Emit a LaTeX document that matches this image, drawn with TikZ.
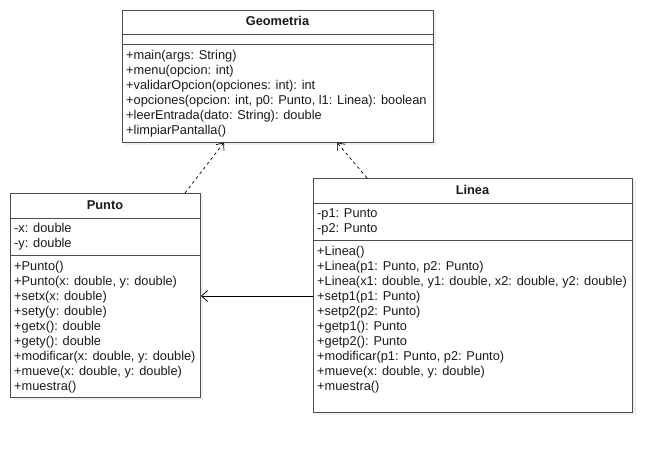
\documentclass[tikz,border=0pt]{standalone}
\usepackage{fontspec}
\setmainfont{Liberation Sans}
\usetikzlibrary{arrows.meta}
\definecolor{linecol}{HTML}{4D4D4D}
\definecolor{textcol}{HTML}{1A1A1A}
\definecolor{shadowcol}{HTML}{EFEFEF}
\tikzset{
  clsbox/.style={draw=linecol, fill=white, line width=1pt, anchor=north west, inner sep=0pt, outer sep=0pt},
  shbox/.style={fill=shadowcol, draw=none, anchor=north west, inner sep=0pt, outer sep=0pt},
  divider/.style={draw=linecol, line width=1pt},
  txt/.style={anchor=west, inner sep=0pt, text height=9.5pt, text depth=3pt, text=textcol, font=\fontsize{12.8}{15}\selectfont},
  ttl/.style={anchor=center, inner sep=0pt, text height=9.5pt, text depth=3pt, text=textcol, font=\fontsize{12.8}{15}\selectfont\bfseries},
  dep/.style={draw=black, line width=0.7pt, dash pattern=on 3pt off 3pt, -{Straight Barb[length=6pt,width=10pt,line width=0.7pt]}},
  assoc/.style={draw=black, line width=0.8pt, -{Straight Barb[length=6pt,width=11pt,line width=0.8pt]}},
}
\begin{document}
\begin{tikzpicture}[x=1pt,y=-1pt]
\fill[white] (0,0) rectangle (672,453);
\useasboundingbox (0,0) rectangle (672,453);

% ---- Geometria ----
\node[shbox, minimum width=311pt, minimum height=132pt] (geosh) at (125,13) {};
\node[clsbox, minimum width=311pt, minimum height=132pt] (geo) at (122,10) {};
\draw[divider] (122,34) -- (433,34);
\draw[divider] (122,44) -- (433,44);
\node[ttl] (geot) at (277.5,22) {Geometria};
\node[txt] (g1) at (126,56) {+main(args: String)};
\node[txt] (g2) at (126,71) {+menu(opcion: int)};
\node[txt] (g3) at (126,86) {+validarOpcion(opciones: int): int};
\node[txt] (g4) at (126,101) {+opciones(opcion: int, p0: Punto, l1: Linea): boolean};
\node[txt] (g5) at (126,116) {+leerEntrada(dato: String): double};
\node[txt] (g6) at (126,131) {+limpiarPantalla()};

% ---- Punto ----
\node[shbox, minimum width=190pt, minimum height=204pt] (puntosh) at (13,196) {};
\node[clsbox, minimum width=190pt, minimum height=204pt] (punto) at (10,193) {};
\draw[divider] (10,218) -- (200,218);
\draw[divider] (10,255) -- (200,255);
\node[ttl] (pt) at (105,206) {Punto};
\node[txt] (pa1) at (14,229) {-x: double};
\node[txt] (pa2) at (14,244) {-y: double};
\node[txt] (pm1) at (14,267) {+Punto()};
\node[txt] (pm2) at (14,282) {+Punto(x: double, y: double)};
\node[txt] (pm3) at (14,297) {+setx(x: double)};
\node[txt] (pm4) at (14,312) {+sety(y: double)};
\node[txt] (pm5) at (14,327) {+getx(): double};
\node[txt] (pm6) at (14,342) {+gety(): double};
\node[txt] (pm7) at (14,357) {+modificar(x: double, y: double)};
\node[txt] (pm8) at (14,372) {+mueve(x: double, y: double)};
\node[txt] (pm9) at (14,387) {+muestra()};

% ---- Linea ----
\node[shbox, minimum width=319pt, minimum height=234pt] (lineash) at (317,181) {};
\node[clsbox, minimum width=319pt, minimum height=234pt] (linea) at (313,178) {};
\draw[divider] (313,203) -- (632,203);
\draw[divider] (313,240) -- (632,240);
\node[ttl] (lt) at (472.5,191) {Linea};
\node[txt] (la1) at (317,214) {-p1: Punto};
\node[txt] (la2) at (317,229) {-p2: Punto};
\node[txt] (lm1) at (317,252) {+Linea()};
\node[txt] (lm2) at (317,267) {+Linea(p1: Punto, p2: Punto)};
\node[txt] (lm3) at (317,282) {+Linea(x1: double, y1: double, x2: double, y2: double)};
\node[txt] (lm4) at (317,297) {+setp1(p1: Punto)};
\node[txt] (lm5) at (317,312) {+setp2(p2: Punto)};
\node[txt] (lm6) at (317,327) {+getp1(): Punto};
\node[txt] (lm7) at (317,342) {+getp2(): Punto};
\node[txt] (lm8) at (317,357) {+modificar(p1: Punto, p2: Punto)};
\node[txt] (lm9) at (317,372) {+mueve(x: double, y: double)};
\node[txt] (lm10) at (317,387) {+muestra()};

% ---- connectors ----
\coordinate (ps) at (185,193);
\coordinate (pe) at (224,142.5);
\coordinate (ls) at (367,178);
\coordinate (le) at (337,142.5);
\coordinate (as) at (313,296);
\coordinate (ae) at (201,296);
\draw[dep] (ps) -- (pe);
\draw[dep] (ls) -- (le);
\draw[assoc] (as) -- (ae);
\end{tikzpicture}
\end{document}
